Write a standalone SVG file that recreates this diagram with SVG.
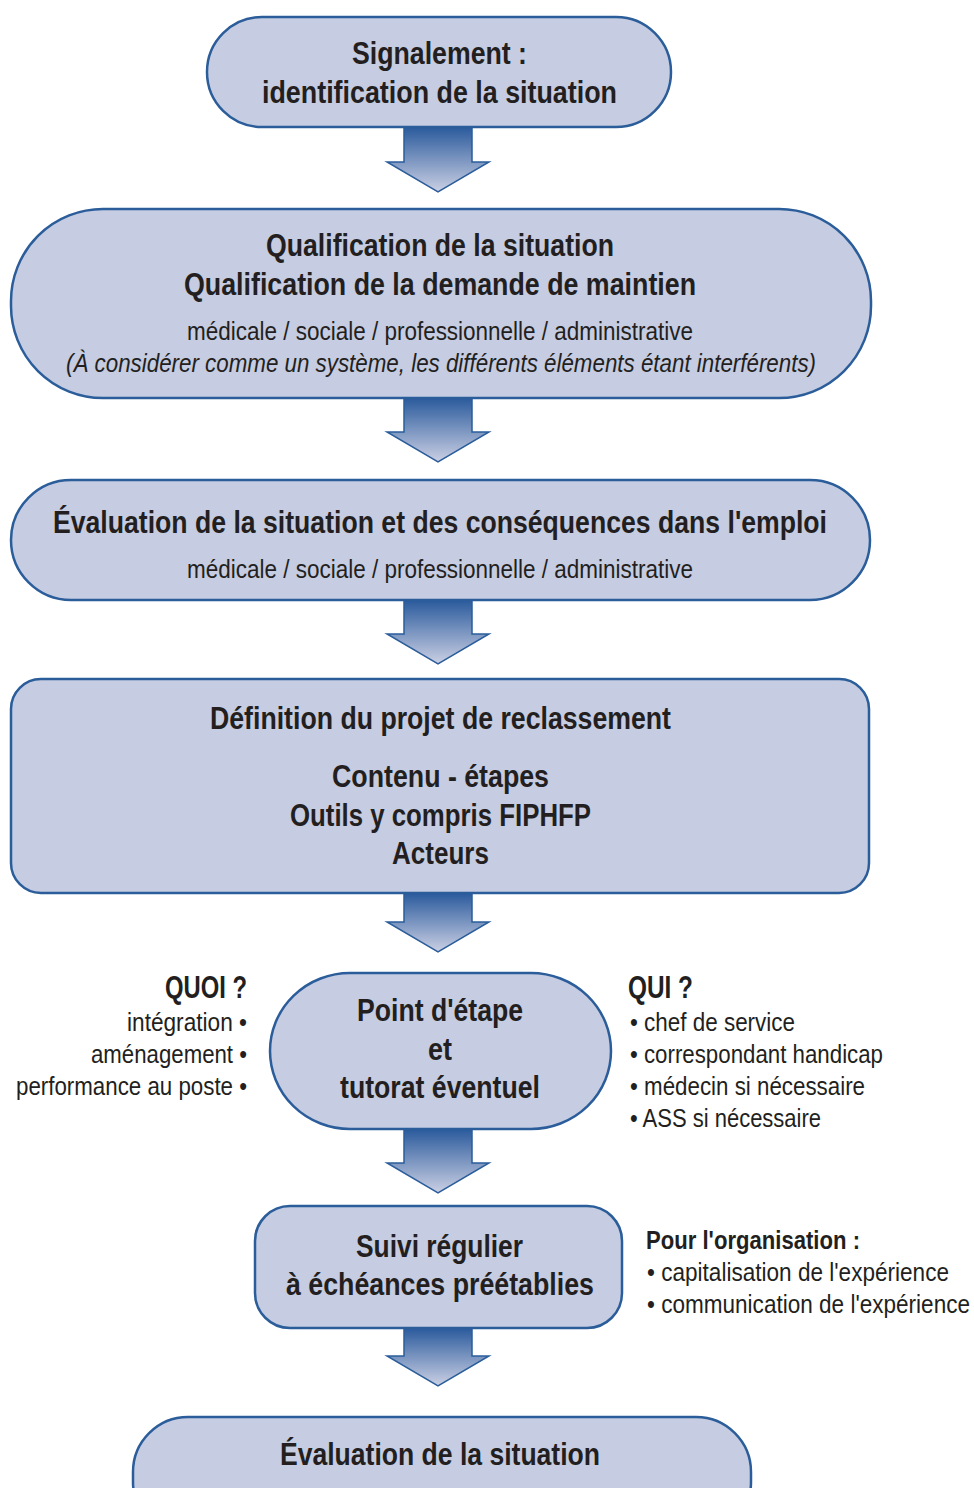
<svg xmlns="http://www.w3.org/2000/svg" width="974" height="1488" viewBox="0 0 974 1488">
<defs>
<linearGradient id="ag" x1="0" y1="0" x2="0" y2="1">
<stop offset="0" stop-color="#2a5a9c"/>
<stop offset="1" stop-color="#cbd0e4"/>
</linearGradient>
<style>
.box{fill:#c6cce1;stroke:#2a5d9a;stroke-width:2.5}
.arr{fill:url(#ag);stroke:#2a5d9a;stroke-width:1.5;stroke-linejoin:miter}
text{font-family:"Liberation Sans",Arial,sans-serif;fill:#231f20}
.b{font-weight:bold;font-size:31px}
.r{font-size:25px}
.i{font-size:25px;font-style:italic}
.s{font-weight:bold;font-size:26px}
</style>
</defs>
<rect width="974" height="1488" fill="#ffffff"/>
<g id="connectors">
<path class="arr" d="M404,127 L472,127 L472,162 L489,162 L438,192 L387,162 L404,162 Z"/>
<path class="arr" d="M404,398 L472,398 L472,432 L489,432 L438,462 L387,432 L404,432 Z"/>
<path class="arr" d="M404,600 L472,600 L472,634 L489,634 L438,664 L387,634 L404,634 Z"/>
<path class="arr" d="M404,893 L472,893 L472,922 L489,922 L438,952 L387,922 L404,922 Z"/>
<path class="arr" d="M404,1129 L472,1129 L472,1163 L489,1163 L438,1193 L387,1163 L404,1163 Z"/>
<path class="arr" d="M404,1328 L472,1328 L472,1356 L489,1356 L438,1386 L387,1356 L404,1356 Z"/>
</g>
<g id="n1">
<rect class="box" x="207" y="17" width="464" height="110" rx="55" ry="55"/>
<text class="b" x="352" y="64" textLength="175" lengthAdjust="spacingAndGlyphs">Signalement :</text>
<text class="b" x="262" y="103" textLength="355" lengthAdjust="spacingAndGlyphs">identification de la situation</text>
</g>
<g id="n2">
<rect class="box" x="11" y="209" width="860" height="189" rx="92" ry="92"/>
<text class="b" x="266" y="256" textLength="348" lengthAdjust="spacingAndGlyphs">Qualification de la situation</text>
<text class="b" x="184" y="295" textLength="512" lengthAdjust="spacingAndGlyphs">Qualification de la demande de maintien</text>
<text class="r" x="187" y="340" textLength="506" lengthAdjust="spacingAndGlyphs">médicale / sociale / professionnelle / administrative</text>
<text class="i" x="66" y="372" textLength="750" lengthAdjust="spacingAndGlyphs">(À considérer comme un système, les différents éléments étant interférents)</text>
</g>
<g id="n3">
<rect class="box" x="11" y="480" width="859" height="120" rx="60" ry="60"/>
<text class="b" x="53" y="533" textLength="774" lengthAdjust="spacingAndGlyphs">Évaluation de la situation et des conséquences dans l'emploi</text>
<text class="r" x="187" y="578" textLength="506" lengthAdjust="spacingAndGlyphs">médicale / sociale / professionnelle / administrative</text>
</g>
<g id="n4">
<rect class="box" x="11" y="679" width="858" height="214" rx="30" ry="30"/>
<text class="b" x="210" y="729" textLength="461" lengthAdjust="spacingAndGlyphs">Définition du projet de reclassement</text>
<text class="b" x="332" y="787" textLength="217" lengthAdjust="spacingAndGlyphs">Contenu - étapes</text>
<text class="b" x="290" y="826" textLength="301" lengthAdjust="spacingAndGlyphs">Outils y compris FIPHFP</text>
<text class="b" x="392" y="864" textLength="97" lengthAdjust="spacingAndGlyphs">Acteurs</text>
</g>
<g id="n5">
<rect class="box" x="270" y="973" width="341" height="156" rx="80" ry="78"/>
<text class="b" x="357" y="1021" textLength="166" lengthAdjust="spacingAndGlyphs">Point d'étape</text>
<text class="b" x="428" y="1060" textLength="24" lengthAdjust="spacingAndGlyphs">et</text>
<text class="b" x="340" y="1098" textLength="200" lengthAdjust="spacingAndGlyphs">tutorat éventuel</text>
</g>
<g id="quoi">
<text class="b" x="165" y="998" textLength="82" lengthAdjust="spacingAndGlyphs">QUOI ?</text>
<text class="r" x="127" y="1031" textLength="120" lengthAdjust="spacingAndGlyphs">intégration •</text>
<text class="r" x="91" y="1063" textLength="156" lengthAdjust="spacingAndGlyphs">aménagement •</text>
<text class="r" x="16" y="1095" textLength="231" lengthAdjust="spacingAndGlyphs">performance au poste •</text>
</g>
<g id="qui">
<text class="b" x="628" y="998" textLength="65" lengthAdjust="spacingAndGlyphs">QUI ?</text>
<text class="r" x="630" y="1031" textLength="165" lengthAdjust="spacingAndGlyphs">• chef de service</text>
<text class="r" x="630" y="1063" textLength="253" lengthAdjust="spacingAndGlyphs">• correspondant handicap</text>
<text class="r" x="630" y="1095" textLength="235" lengthAdjust="spacingAndGlyphs">• médecin si nécessaire</text>
<text class="r" x="630" y="1127" textLength="191" lengthAdjust="spacingAndGlyphs">• ASS si nécessaire</text>
</g>
<g id="n6">
<rect class="box" x="255" y="1206" width="367" height="122" rx="35" ry="35"/>
<text class="b" x="356" y="1257" textLength="167" lengthAdjust="spacingAndGlyphs">Suivi régulier</text>
<text class="b" x="286" y="1295" textLength="308" lengthAdjust="spacingAndGlyphs">à échéances préétablies</text>
</g>
<g id="org">
<text class="s" x="646" y="1249" textLength="214" lengthAdjust="spacingAndGlyphs">Pour l'organisation :</text>
<text class="r" x="647" y="1281" textLength="302" lengthAdjust="spacingAndGlyphs">• capitalisation de l'expérience</text>
<text class="r" x="647" y="1313" textLength="323" lengthAdjust="spacingAndGlyphs">• communication de l'expérience</text>
</g>
<g id="n7">
<rect class="box" x="133" y="1417" width="618" height="120" rx="55" ry="55"/>
<text class="b" x="280" y="1465" textLength="320" lengthAdjust="spacingAndGlyphs">Évaluation de la situation</text>
</g>
</svg>
